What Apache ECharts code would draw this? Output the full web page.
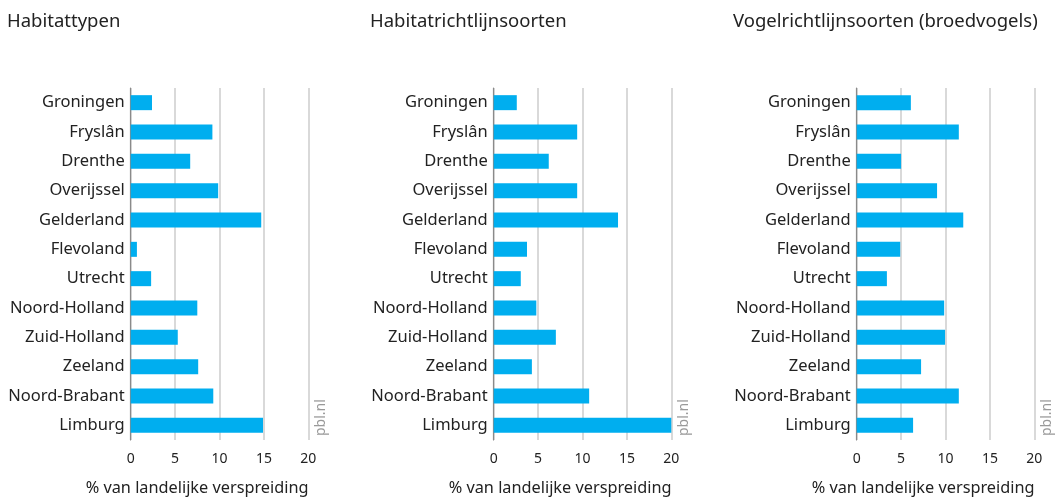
<!DOCTYPE html>
<html>
<head>
<meta charset="utf-8">
<script src="https://cdn.jsdelivr.net/npm/echarts@6/dist/echarts.min.js"></script>
<style>
  html, body { margin: 0; padding: 0; background: #fff; }
  #chart { width: 1055px; height: 497px; }
</style>
</head>
<body>
<div id="chart"></div>
<script>
var provinces = ['Groningen', 'Fryslân', 'Drenthe', 'Overijssel', 'Gelderland', 'Flevoland',
    'Utrecht', 'Noord-Holland', 'Zuid-Holland', 'Zeeland', 'Noord-Brabant', 'Limburg'];

var habitattypen = [2.4, 9.2, 6.7, 9.85, 14.7, 0.7, 2.3, 7.5, 5.3, 7.6, 9.3, 14.9];
var habitatrichtlijn = [2.6, 9.4, 6.2, 9.4, 14.0, 3.75, 3.05, 4.8, 7.0, 4.3, 10.75, 20.1];
var vogelrichtlijn = [6.1, 11.5, 5.0, 9.05, 12.0, 4.9, 3.4, 9.85, 9.95, 7.25, 11.5, 6.35];

var panelTitles = ['Habitattypen', 'Habitatrichtlijnsoorten', 'Vogelrichtlijnsoorten (broedvogels)'];
var axisTitle = '% van landelijke verspreiding';

var font = 'Noto Sans';
var lefts = [130.7, 493.7, 856.7];
var panelX = [7, 370, 733];
var allData = [habitattypen, habitatrichtlijn, vogelrichtlijn];

var grids = [], xAxes = [], yAxes = [], series = [], titles = [], graphics = [];

for (var i = 0; i < 3; i++) {
    grids.push({ left: lefts[i], width: 177.6, top: 88, height: 352 });
    xAxes.push({
        gridIndex: i,
        type: 'value',
        min: 0,
        max: 20,
        interval: 5,
        axisLine: { show: false },
        axisTick: { show: false },
        axisLabel: { color: '#222', fontSize: 14, fontFamily: font, margin: 12 },
        splitLine: { lineStyle: { color: '#cccccc', width: 1.5 } }
    });
    yAxes.push({
        gridIndex: i,
        type: 'category',
        inverse: true,
        data: provinces,
        axisLine: { show: true, lineStyle: { color: '#8a8a8a', width: 1.2 } },
        axisTick: { show: false },
        axisLabel: { color: '#222', fontSize: 16.5, fontFamily: font, margin: 6 }
    });
    series.push({
        type: 'bar',
        xAxisIndex: i,
        yAxisIndex: i,
        data: allData[i],
        barWidth: 15,
        itemStyle: { color: '#00aeef' },
        silent: true
    });
    titles.push({
        text: panelTitles[i],
        left: panelX[i] - 5,
        top: 7,
        textStyle: { color: '#222', fontSize: 18.5, fontWeight: 'normal', fontFamily: font }
    });
    graphics.push({
        type: 'text',
        left: lefts[i] - 45,
        top: 480,
        style: { text: axisTitle, fill: '#222', fontSize: 16.3, fontFamily: font }
    });
    graphics.push({
        type: 'text',
        x: lefts[i] + 183,
        y: 436,
        rotation: Math.PI / 2,
        style: { text: 'pbl.nl', fill: '#999', fontSize: 14, fontFamily: font }
    });
}

var chart = echarts.init(document.getElementById('chart'));
chart.setOption({
    animation: false,
    title: titles,
    grid: grids,
    xAxis: xAxes,
    yAxis: yAxes,
    series: series,
    graphic: graphics
});
</script>
</body>
</html>
